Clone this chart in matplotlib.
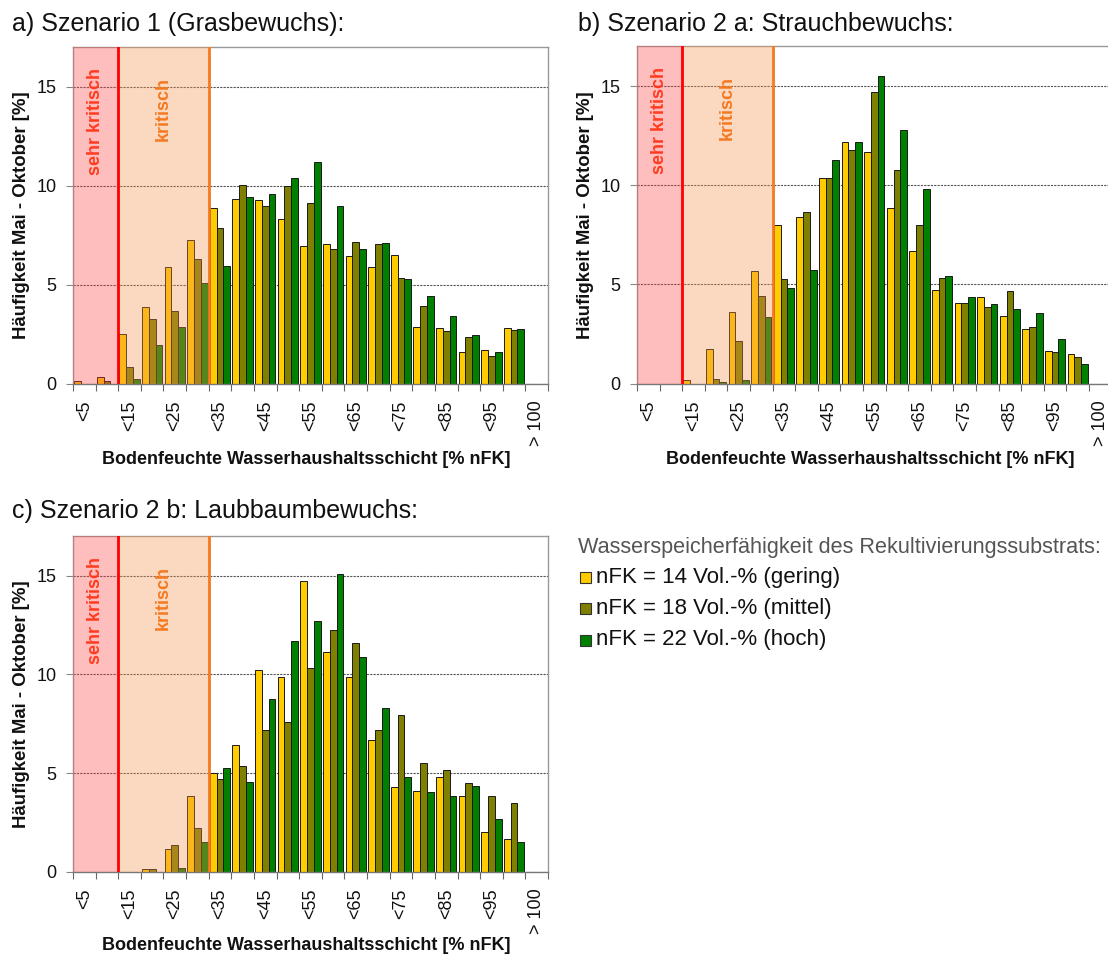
import matplotlib
matplotlib.use("Agg")
import matplotlib.pyplot as plt
from matplotlib.patches import Rectangle
import numpy as np

plt.rcParams['font.family'] = ['Liberation Sans', 'DejaVu Sans']

categories = ['<5', '<10', '<15', '<20', '<25', '<30', '<35', '<40', '<45', '<50',
              '<55', '<60', '<65', '<70', '<75', '<80', '<85', '<90', '<95', '<100', '> 100']
tick_labels = ['<5', '<15', '<25', '<35', '<45', '<55', '<65', '<75', '<85', '<95', '> 100']
series_names = ['nFK = 14 Vol.-% (gering)', 'nFK = 18 Vol.-% (mittel)', 'nFK = 22 Vol.-% (hoch)']
series_colors = ['#FFCC00', '#808000', '#008000']

# a) Szenario 1 (Grasbewuchs)
a_gering = [0.15, 0.37, 2.5, 3.9, 5.9, 7.26, 8.87, 9.33, 9.29, 8.32, 6.97, 7.05, 6.48, 5.88, 6.52, 2.9, 2.81, 1.62, 1.7, 2.85, 0]
a_mittel = [0, 0.17, 0.84, 3.27, 3.67, 6.3, 7.86, 10.02, 9.0, 9.97, 9.14, 6.82, 7.17, 7.05, 5.37, 3.94, 2.68, 2.36, 1.41, 2.74, 0]
a_hoch = [0, 0, 0.24, 1.95, 2.86, 5.07, 5.94, 9.43, 9.56, 10.4, 11.2, 9.0, 6.82, 7.09, 5.3, 4.43, 3.43, 2.49, 1.63, 2.79, 0]

# b) Szenario 2 a (Strauchbewuchs)
b_gering = [0, 0, 0.2, 1.74, 3.59, 5.65, 8.0, 8.39, 10.37, 12.2, 11.7, 8.83, 6.69, 4.72, 4.08, 4.35, 3.4, 2.75, 1.64, 1.48, 0]
b_mittel = [0, 0, 0, 0.24, 2.14, 4.43, 5.27, 8.66, 10.37, 11.78, 14.7, 10.79, 8.0, 5.31, 4.08, 3.88, 4.65, 2.87, 1.57, 1.33, 0]
b_hoch = [0, 0, 0, 0.07, 0.2, 3.35, 4.84, 5.73, 11.26, 12.17, 15.5, 12.8, 9.81, 5.43, 4.38, 4.0, 3.78, 3.54, 2.22, 0.96, 0]

# c) Szenario 2 b (Laubbaumbewuchs)
c_gering = [0, 0, 0, 0.15, 1.16, 3.87, 5.03, 6.45, 10.2, 9.87, 14.73, 11.11, 9.85, 6.68, 4.31, 4.09, 4.83, 3.87, 2.02, 1.68, 0]
c_mittel = [0, 0, 0, 0.15, 1.38, 2.21, 4.71, 5.35, 7.17, 7.59, 10.34, 12.26, 11.57, 7.17, 7.95, 5.54, 5.15, 4.51, 3.87, 3.47, 0]
c_hoch = [0, 0, 0, 0, 0.18, 1.5, 5.27, 4.56, 8.75, 11.67, 12.68, 15.1, 10.86, 8.28, 4.81, 4.04, 3.82, 4.34, 2.68, 1.53, 0]

titles = ['a) Szenario 1 (Grasbewuchs):', 'b) Szenario 2 a: Strauchbewuchs:', 'c) Szenario 2 b: Laubbaumbewuchs:']
ylabel = 'Häufigkeit Mai - Oktober [%]'
xlabel = 'Bodenfeuchte Wasserhaushaltsschicht [% nFK]'
legend_title = 'Wasserspeicherfähigkeit des Rekultivierungssubstrats:'

W, H = 1108, 956
fig = plt.figure(figsize=(W / 100, H / 100), dpi=100)

def fx(px):
    return px / W

def fy(py):
    return 1 - py / H

# axes boxes in pixels: left, top, right, bottom
boxes = [(73, 47, 548, 384), (637, 46.5, 1111.6, 383.5), (73, 536, 548, 872)]
panels = [(a_gering, a_mittel, a_hoch), (b_gering, b_mittel, b_hoch), (c_gering, c_mittel, c_hoch)]
title_pos = [(12, 24), (578, 24), (12, 511)]
ylabel_x = [22, 586, 22]
xlabel_pos = [(306, 459), (870, 459), (306, 945)]

n = len(categories)
x = np.arange(n)
bw = 0.3

for (l, t, r, b), data, ttl, tp, ylx, xlp in zip(boxes, panels, titles, title_pos, ylabel_x, xlabel_pos):
    ax = fig.add_axes([fx(l), fy(b), fx(r - l), (b - t) / H])
    for k, (vals, col) in enumerate(zip(data, series_colors)):
        ax.bar(x + (k - 1) * bw, vals, width=bw, color=col, edgecolor='#1a1a1a',
               linewidth=0.7, zorder=2)
    ax.set_xlim(-0.5, n - 0.5)
    ax.set_ylim(0, 17)
    # critical zones (semi-transparent overlay tinting bars)
    ax.axvspan(-0.5, 1.5, color=(1.0, 0.27, 0.27), alpha=0.35, lw=0, zorder=3)
    ax.axvspan(1.5, 5.5, color=(0.965, 0.573, 0.294), alpha=0.35, lw=0, zorder=3)
    ax.axvline(1.5, color='#FF0000', lw=2, zorder=4)
    ax.axvline(5.5, color='#F47920', lw=2, zorder=4)
    ax.text(0.5, 15.95, 'sehr kritisch', rotation=90, ha='center', va='top',
            color='#FF3B1F', fontsize=13, fontweight='bold', zorder=5)
    ax.text(3.5, 15.5, 'kritisch', rotation=90, ha='center', va='top',
            color='#F47920', fontsize=13, fontweight='bold', zorder=5)

    ax.set_yticks([0, 5, 10, 15])
    ax.tick_params(axis='y', length=5, width=0.8, color='#888888', pad=7,
                   labelsize=13, labelcolor='#111111')
    ax.yaxis.grid(True, linestyle=(0, (2, 1)), color='#555555', lw=0.8, zorder=1)
    ax.set_axisbelow(True)

    ax.set_xticks(x[::2])
    ax.set_xticklabels(tick_labels, rotation=90, fontsize=13, color='#111111', va='top')
    ax.set_xticks(np.arange(-0.5, n, 1.0), minor=True)
    ax.tick_params(axis='x', which='major', length=0, pad=12)
    ax.tick_params(axis='x', which='minor', length=5, width=0.8, color='#666666')

    for s in ['left', 'top', 'right']:
        ax.spines[s].set_color('#999999')
        ax.spines[s].set_linewidth(1)
    ax.spines['bottom'].set_color('#777777')
    ax.spines['bottom'].set_linewidth(1)

    fig.text(fx(tp[0]), fy(tp[1]), ttl, fontsize=18, ha='left', va='center', color='#111111')
    fig.text(fx(ylx), fy((t + b) / 2), ylabel, rotation=90, fontsize=13.4, fontweight='bold',
             ha='center', va='center', color='#111111')
    fig.text(fx(xlp[0]), fy(xlp[1]), xlabel, fontsize=13, fontweight='bold',
             ha='center', va='center', color='#111111')

# legend (manual)
fig.text(fx(578), fy(548), legend_title, fontsize=15.6, color='#555555', ha='left', va='center')
for i, (name, col) in enumerate(zip(series_names, series_colors)):
    yc = 577 + i * 31.5
    fig.patches.append(Rectangle((fx(580), fy(yc + 5.5)), fx(11), 11 / H, transform=fig.transFigure,
                                 facecolor=col, edgecolor='#333333', lw=0.8))
    fig.text(fx(596), fy(yc), name, fontsize=16, color='#111111', ha='left', va='center')

fig.savefig('out.png', dpi=100)
